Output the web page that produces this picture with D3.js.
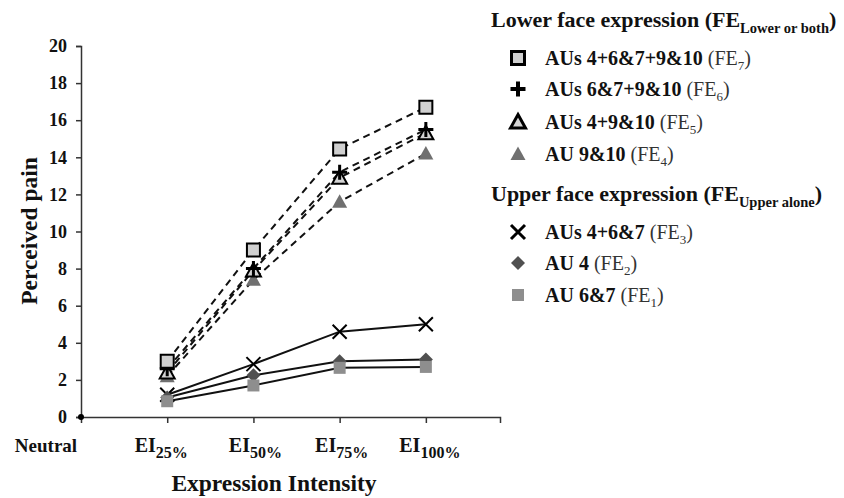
<!DOCTYPE html>
<html>
<head>
<meta charset="utf-8">
<script src="https://cdn.jsdelivr.net/npm/d3@7"></script>
<style>
  body { margin: 0; background: #fff; }
  svg { display: block; font-family: "Liberation Serif", "Times New Roman", serif; }
</style>
</head>
<body>
<div id="chart"></div>
<script>
// x categories (index 0 = Neutral)
const tickMain = ["Neutral", "EI", "EI", "EI", "EI"];
const tickSub = ["", "25%", "50%", "75%", "100%"];
const yTicks = [0, 2, 4, 6, 8, 10, 12, 14, 16, 18, 20];

// values at EI25, EI50, EI75, EI100
const fe7 = [3.0, 9.0, 14.45, 16.7];
const fe6 = [2.6, 8.0, 13.2, 15.5];
const fe5 = [2.4, 7.9, 12.9, 15.3];
const fe4 = [2.2, 7.4, 11.6, 14.2];
const fe3 = [1.2, 2.85, 4.6, 5.0];
const fe2 = [1.05, 2.25, 3.0, 3.1];
const fe1 = [0.85, 1.7, 2.65, 2.7];

const lowerTitle = ["Lower face expression (FE", "Lower or both", ")"];
const upperTitle = ["Upper face expression (FE", "Upper alone", ")"];
const lowerNames = [["AUs", "4+6&7+9&10", "7"], ["AUs", "6&7+9&10", "6"], ["AUs", "4+9&10", "5"], ["AU", "9&10", "4"]];
const upperNames = [["AUs", "4+6&7", "3"], ["AU", "4", "2"], ["AU", "6&7", "1"]];

const width = 844, height = 498;
const svg = d3.select("#chart").append("svg")
    .attr("width", width)
    .attr("height", height);

const x = d3.scaleLinear().domain([0, 4.86]).range([81, 500]);
const y = d3.scaleLinear().domain([0, 20]).range([417, 46]);

// marker shapes
const shapes = {
    square: "M-6.5,-6.5H6.5V6.5H-6.5Z",
    smallSquare: "M-6,-6H6V6H-6Z",
    triangle: "M0,-7.5L7.5,6L-7.5,6Z",
    diamond: "M0,-7L7,0L0,7L-7,0Z",
    plus: "M-7.5,0H7.5M0,-7.5V7.5",
    cross: "M-7,-7L7,7M7,-7L-7,7"
};

const series = [
    { vals: fe3, dash: null, shape: "cross", fill: "none", stroke: "#000", sw: 2 },
    { vals: fe2, dash: null, shape: "diamond", fill: "#505050", stroke: "none", sw: 0 },
    { vals: fe1, dash: null, shape: "smallSquare", fill: "#8e8e8e", stroke: "none", sw: 0 },
    { vals: fe4, dash: "7,5", shape: "triangle", fill: "#707070", stroke: "none", sw: 0 },
    { vals: fe5, dash: "7,5", shape: "triangle", fill: "#d4d4d4", stroke: "#000", sw: 2 },
    { vals: fe6, dash: "7,5", shape: "plus", fill: "none", stroke: "#000", sw: 3 },
    { vals: fe7, dash: "7,5", shape: "square", fill: "#d0d0d0", stroke: "#000", sw: 2 }
];

// axes
const yAxis = svg.append("g")
    .attr("transform", `translate(${x(0)},0)`)
    .call(d3.axisLeft(y).tickValues(yTicks).tickSize(5).tickPadding(9));
const xAxis = svg.append("g")
    .attr("transform", `translate(0,${y(0)})`)
    .call(d3.axisBottom(x).tickValues([1, 2, 3, 4]).tickSize(6).tickFormat(""));
[yAxis, xAxis].forEach(g => {
    g.select(".domain").attr("stroke", "#333").attr("stroke-width", 1.5);
    g.selectAll(".tick line").attr("stroke", "#333").attr("stroke-width", 1.5);
});
yAxis.selectAll(".tick text")
    .attr("font-family", "Liberation Serif")
    .attr("font-size", 18)
    .attr("font-weight", "bold")
    .attr("fill", "#111");

// x tick labels with subscripts
const labelNudge = [-35, -6, 2, 2, 4];
tickMain.forEach((m, i) => {
    const t = svg.append("text")
        .attr("x", x(i) + labelNudge[i])
        .attr("y", 452)
        .attr("text-anchor", "middle")
        .attr("font-weight", "bold")
        .attr("font-size", i === 0 ? 19 : 20)
        .attr("fill", "#111");
    t.append("tspan").text(m);
    if (tickSub[i]) t.append("tspan").attr("dy", 6).attr("font-size", 16).text(tickSub[i]);
});

svg.append("text")
    .attr("x", 274)
    .attr("y", 491)
    .attr("text-anchor", "middle")
    .attr("font-weight", "bold")
    .attr("font-size", 23.5)
    .attr("fill", "#111")
    .text("Expression Intensity");

svg.append("text")
    .attr("transform", `translate(37,231) rotate(-90)`)
    .attr("text-anchor", "middle")
    .attr("font-weight", "bold")
    .attr("font-size", 23.5)
    .attr("fill", "#111")
    .text("Perceived pain");

// neutral origin dot
svg.append("circle")
    .attr("cx", x(0))
    .attr("cy", y(0))
    .attr("r", 3)
    .attr("fill", "#000");

// lines
const line = d3.line()
    .x((d, i) => x(i + 1))
    .y(d => y(d));

series.forEach(s => {
    svg.append("path")
        .datum(s.vals)
        .attr("fill", "none")
        .attr("stroke", "#111")
        .attr("stroke-width", 2)
        .attr("stroke-dasharray", s.dash)
        .attr("d", line);
});

// markers
series.forEach(s => {
    svg.selectAll(null)
        .data(s.vals)
        .enter().append("path")
        .attr("transform", (d, i) => `translate(${x(i + 1)},${y(d)})`)
        .attr("d", shapes[s.shape])
        .attr("fill", s.fill)
        .attr("stroke", s.stroke)
        .attr("stroke-width", s.sw);
});

// legend
function legendTitle(parts, ty) {
    const t = svg.append("text")
        .attr("x", 491)
        .attr("y", ty)
        .attr("font-weight", "bold")
        .attr("font-size", 22)
        .attr("fill", "#111");
    t.append("tspan").text(parts[0]);
    t.append("tspan").attr("dy", 6).attr("font-size", 14.5).text(parts[1]);
    t.append("tspan").attr("dy", -6).text(parts[2]);
}

function legendItem(name, s, ty) {
    svg.append("path")
        .attr("transform", `translate(518,${ty})`)
        .attr("d", shapes[s.shape])
        .attr("fill", s.fill)
        .attr("stroke", s.stroke)
        .attr("stroke-width", s.sw === 0 ? 0 : s.sw + 1);
    const t = svg.append("text")
        .attr("x", 545)
        .attr("y", ty + 7)
        .attr("font-size", 20)
        .attr("fill", "#111");
    t.append("tspan").attr("font-weight", "bold").text(name[0] + " " + name[1] + " ");
    t.append("tspan").attr("fill", "#333").text("(FE");
    t.append("tspan").attr("fill", "#333").attr("dy", 5).attr("font-size", 13).text(name[2]);
    t.append("tspan").attr("fill", "#333").attr("dy", -5).text(")");
}

legendTitle(lowerTitle, 27);
const lowerSeries = [series[6], series[5], series[4], series[3]];
lowerNames.forEach((n, i) => legendItem(n, lowerSeries[i], [58, 89, 122, 154][i]));

legendTitle(upperTitle, 201);
const upperSeries = [series[0], series[1], series[2]];
upperNames.forEach((n, i) => legendItem(n, upperSeries[i], [232, 263, 295][i]));
</script>
</body>
</html>
